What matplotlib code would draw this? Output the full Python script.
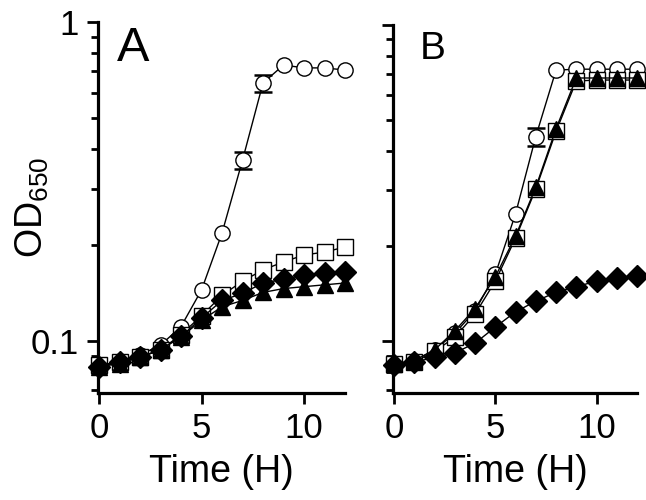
import numpy as np
import matplotlib.pyplot as plt
from matplotlib.ticker import LogLocator, NullFormatter, FixedLocator

plt.rcParams['font.family'] = ['Liberation Sans', 'DejaVu Sans']
plt.rcParams['mathtext.default'] = 'regular'

# tid i timmar
t = [0, 1, 2, 3, 4, 5, 6, 7, 8, 9, 10, 11, 12]

# panel A, OD650
a_circle = [0.083, 0.086, 0.0905, 0.097, 0.111, 0.1445, 0.218, 0.369, 0.644, 0.733, 0.718, 0.718, 0.707]
a_square = [0.084, 0.086, 0.089, 0.0937, 0.1047, 0.120, 0.139, 0.154, 0.167, 0.177, 0.186, 0.190, 0.197]
a_diamond = [0.083, 0.0857, 0.089, 0.0937, 0.1033, 0.118, 0.134, 0.141, 0.152, 0.156, 0.161, 0.163, 0.164]
a_triangle = [0.083, 0.085, 0.089, 0.094, 0.103, 0.116, 0.128, 0.134, 0.142, 0.146, 0.148, 0.150, 0.152]
a_err_t = [7, 8]
a_err_y = [0.369, 0.644]
a_err = [0.023, 0.04]

# panel B, OD650
b_circle = [0.084, 0.087, 0.094, 0.106, 0.125, 0.163, 0.253, 0.444, 0.72, 0.725, 0.725, 0.725, 0.725]
b_square = [0.085, 0.086, 0.093, 0.103, 0.122, 0.155, 0.212, 0.303, 0.461, 0.665, 0.67, 0.67, 0.67]
b_triangle = [0.085, 0.087, 0.094, 0.108, 0.127, 0.160, 0.215, 0.307, 0.47, 0.68, 0.68, 0.68, 0.68]
b_diamond = [0.084, 0.086, 0.089, 0.092, 0.0987, 0.111, 0.124, 0.134, 0.143, 0.149, 0.155, 0.159, 0.161]
b_err_t = [7]
b_err_y = [0.444]
b_err = [0.03]

fig = plt.figure(figsize=(6.46, 5.0), dpi=100)
axA = fig.add_axes([0.1517, 0.214, 0.3824, 0.742])
axB = fig.add_axes([0.6084, 0.214, 0.3777, 0.736])

ms = 11


def style_axis(ax, show_ylabels):
    ax.set_yscale('log')
    ax.set_ylim(0.0687, 1)
    ax.set_xlim(-0.05, 12)
    for s in ['top', 'right']:
        ax.spines[s].set_visible(False)
    ax.spines['left'].set_linewidth(2.3)
    ax.spines['bottom'].set_linewidth(2.3)
    ax.xaxis.set_major_locator(FixedLocator([0, 5, 10]))
    ax.yaxis.set_major_locator(FixedLocator([0.1, 1]))
    ax.yaxis.set_minor_locator(LogLocator(base=10, subs=np.arange(2, 10)))
    ax.yaxis.set_minor_formatter(NullFormatter())
    ax.tick_params(axis='both', which='major', length=8, width=2.0, labelsize=25, pad=6)
    ax.tick_params(axis='y', which='minor', length=5, width=2.0)
    if show_ylabels:
        ax.set_yticklabels(['0.1', '1'])
    else:
        ax.set_yticklabels([])
    ax.set_xlabel('Time (H)', fontsize=27, labelpad=6)


def series(ax, y, marker, face, z):
    ax.plot(t, y, color='black', lw=1.0, marker=marker, ms=ms,
            mfc=face, mec='black', mew=1.0, clip_on=False, zorder=z)


# panel A
axA.errorbar(a_err_t, a_err_y, yerr=a_err, fmt='none', ecolor='black',
             elinewidth=1.0, capsize=6.5, capthick=1.8, zorder=2)
series(axA, a_circle, 'o', 'white', 3)
series(axA, a_square, 's', 'white', 4)
series(axA, a_diamond, 'D', 'black', 5)
series(axA, a_triangle, '^', 'black', 6)
style_axis(axA, True)
axA.set_ylabel('OD$_{650}$', fontsize=27)
axA.yaxis.set_label_coords(-0.19, 0.5)
axA.text(0.075, 0.99, 'A', transform=axA.transAxes, fontsize=35, va='top', ha='left')

# panel B
axB.errorbar(b_err_t, b_err_y, yerr=b_err, fmt='none', ecolor='black',
             elinewidth=1.0, capsize=6.5, capthick=1.8, zorder=2)
series(axB, b_circle, 'o', 'white', 3)
series(axB, b_square, 's', 'white', 4)
series(axB, b_triangle, '^', 'black', 5)
series(axB, b_diamond, 'D', 'black', 6)
style_axis(axB, False)
axB.text(0.11, 0.985, 'B', transform=axB.transAxes, fontsize=28, va='top', ha='left')

plt.savefig('out.png', dpi=100)
